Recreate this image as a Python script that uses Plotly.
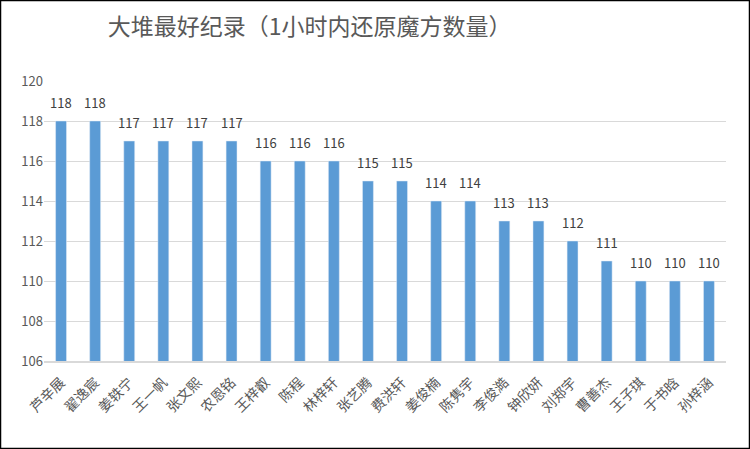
import plotly.graph_objects as go

# names and record counts
names = ["芦辛展", "翟逸宸", "姜轶宁", "王一帆", "张文熙", "农恩铭", "王梓叡",
         "陈程", "林梓轩", "张艺腾", "费洪轩", "姜俊楠", "陈隽宇", "李俊澔",
         "钟欣妍", "刘郑宇", "曹善杰", "王子琪", "于书晗", "孙梓涵"]
counts = [118, 118, 117, 117, 117, 117, 116, 116, 116, 115, 115, 114, 114, 113,
          113, 112, 111, 110, 110, 110]
y_ticks = [106, 108, 110, 112, 114, 116, 118, 120]

fig = go.Figure()
fig.add_trace(go.Bar(
    x=names, y=counts,
    marker_color="#5B9BD5",
    width=0.32,
))

# value labels sit a bit above each bar
for n, c in zip(names, counts):
    fig.add_annotation(x=n, y=c, text=str(c), showarrow=False,
                       yanchor="bottom", yshift=7,
                       font=dict(size=13, color="#404040"))

fig.update_layout(
    width=750, height=449,
    margin=dict(l=44, r=24, t=81, b=88),
    paper_bgcolor="white", plot_bgcolor="white",
    font=dict(family="Noto Sans CJK SC, sans-serif", color="#595959"),
    title=dict(text="大堆最好纪录（1小时内还原魔方数量）",
               x=0.413, xanchor="center", y=0.94, yanchor="middle",
               font=dict(size=23, color="#595959")),
    showlegend=False,
)
fig.update_xaxes(tickangle=-45, tickfont=dict(size=14, color="#595959"),
                 showline=True, linecolor="#d9d9d9", linewidth=1.5, ticks="",
                 ticklabelstandoff=6)
fig.update_yaxes(range=[106, 120], tickvals=y_ticks, showgrid=True,
                 gridcolor="#d9d9d9", gridwidth=1.3, zeroline=False,
                 tickfont=dict(size=13, color="#595959"))

# black frame around the whole picture
fig.add_shape(type="rect", xref="paper", yref="paper",
              x0=-43.5 / 682, x1=705.5 / 682, y0=-87.5 / 280, y1=1 + 80.5 / 280,
              line=dict(color="black", width=1.5))

fig.write_html("out.html", config={"displayModeBar": False},
               post_script="document.body.style.margin='0';")
